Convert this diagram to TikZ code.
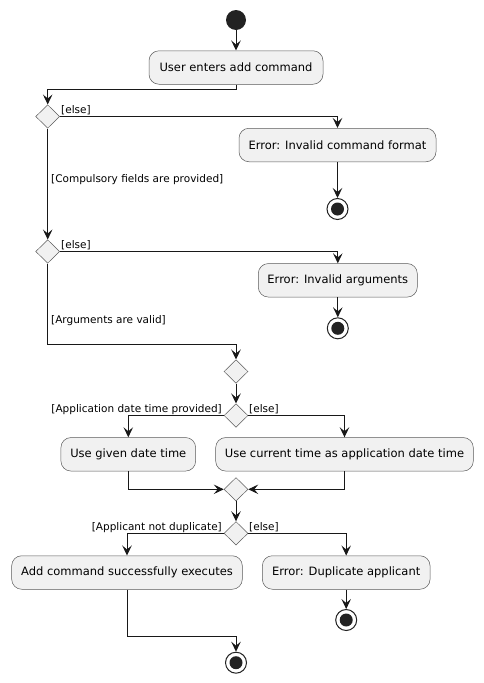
\documentclass[tikz,border=0pt]{standalone}
\usepackage{fontspec}
\setmainfont{DejaVu Sans}
\usetikzlibrary{shapes.geometric,arrows.meta}
\definecolor{ln}{HTML}{181818}
\definecolor{bd}{HTML}{5A5A5A}
\definecolor{bx}{HTML}{F1F1F1}
\definecolor{dot}{HTML}{222222}
\begin{document}
\begin{tikzpicture}[x=1pt,y=-1pt,
  act/.style={draw=bd, line width=0.5pt, fill=bx, rounded corners=10pt, minimum height=33.5pt, inner sep=0pt, font=\fontsize{11.5}{13}\selectfont},
  dec/.style={diamond, aspect=1, draw=bd, line width=0.5pt, fill=bx, minimum width=24pt, minimum height=23.5pt, inner sep=0pt},
  startn/.style={circle, fill=dot, minimum size=20pt, inner sep=0pt},
  endn/.style={circle, draw=dot, line width=1pt, fill=white, minimum size=21pt, inner sep=0pt, path picture={\fill[dot] (path picture bounding box.center) circle (6.5pt);}},
  flow/.style={draw=ln, line width=1pt, -{Stealth[length=10pt,width=9.5pt,inset=4pt]}},
  lbl/.style={font=\fontsize{10.5}{12}\selectfont, inner sep=0pt}]
\useasboundingbox (0,0) rectangle (483,683);
\node[startn] (s) at (236,20) {};
\node[act, minimum width=174pt] (a1) at (236,67.5) {User enters add command};
\node[dec] (d1) at (47.7,116.5) {};
\node[act, minimum width=197pt] (e1) at (337.5,145) {Error: Invalid command format};
\node[endn] (f1) at (337.5,209) {};
\node[dec] (d2) at (47.7,251.5) {};
\node[act, minimum width=159pt] (e2) at (337.8,280.3) {Error: Invalid arguments};
\node[endn] (f2) at (337.8,328.3) {};
\node[dec] (d3) at (236,371.5) {};
\node[dec] (d4) at (236,415.5) {};
\node[act, minimum width=134.7pt] (b1) at (128.3,454.3) {Use given date time};
\node[act, minimum width=257.6pt] (b2) at (344.5,454.3) {Use current time as application date time};
\node[dec] (d5) at (236,489.3) {};
\node[dec] (d6) at (236,533.3) {};
\node[act, minimum width=230.6pt] (b3) at (127,572.5) {Add command successfully executes};
\node[act, minimum width=167.7pt] (b4) at (346.2,572.5) {Error: Duplicate applicant};
\node[endn] (f3) at (346.2,620) {};
\node[endn] (f4) at (236,662.7) {};
\coordinate (m0) at (236,89);
\coordinate (m1) at (236,344);
\coordinate (m2) at (236,636);
\draw[flow] (s) -- (a1);
\draw[flow] (a1.south) -- (m0) -| (d1.north);
\draw[flow] (d1.east) -| (e1.north);
\draw[flow] (e1) -- (f1);
\draw[flow] (d1.south) -- (d2.north);
\draw[flow] (d2.east) -| (e2.north);
\draw[flow] (e2) -- (f2);
\draw[flow] (d2.south) |- (m1) -- (d3.north);
\draw[flow] (d3) -- (d4);
\draw[flow] (d4.west) -| (b1.north);
\draw[flow] (d4.east) -| (b2.north);
\draw[flow] (b1.south) |- (d5.west);
\draw[flow] (b2.south) |- (d5.east);
\draw[flow] (d5) -- (d6);
\draw[flow] (d6.west) -| (b3.north);
\draw[flow] (d6.east) -| (b4.north);
\draw[flow] (b4) -- (f3);
\draw[flow] (b3.south) |- (m2) -- (f4.north);
\node[lbl, anchor=base west] (l1) at (61,113.5) {[else]};
\node[lbl, anchor=base west] (l2) at (51,182.5) {[Compulsory fields are provided]};
\node[lbl, anchor=base west] (l3) at (61,248.5) {[else]};
\node[lbl, anchor=base west] (l4) at (51,323) {[Arguments are valid]};
\node[lbl, anchor=base east] (l5) at (222,412.5) {[Application date time provided]};
\node[lbl, anchor=base west] (l6) at (249,412.5) {[else]};
\node[lbl, anchor=base east] (l7) at (222,530.5) {[Applicant not duplicate]};
\node[lbl, anchor=base west] (l8) at (249,530.5) {[else]};
\end{tikzpicture}
\end{document}
